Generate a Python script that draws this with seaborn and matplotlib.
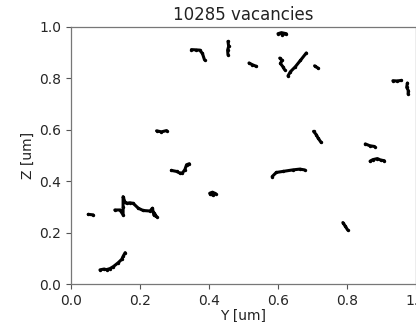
import matplotlib
matplotlib.use("Agg")
import matplotlib.pyplot as plt
import seaborn as sns
import pandas as pd

# Vacancy cluster traces: (Y [um], Z [um]) per cluster
clusters = {
    "arc_low": [(0.084, 0.055), (0.095, 0.058), (0.103, 0.056), (0.113, 0.060),
                (0.123, 0.068), (0.137, 0.083), (0.147, 0.096), (0.152, 0.110), (0.157, 0.122)],
    "dash_left": [(0.050, 0.271), (0.064, 0.269)],
    "big_cross": [(0.127, 0.288), (0.142, 0.288), (0.151, 0.269), (0.151, 0.300),
                  (0.151, 0.340), (0.156, 0.320), (0.161, 0.314), (0.170, 0.316),
                  (0.180, 0.314), (0.195, 0.295), (0.209, 0.286), (0.229, 0.284),
                  (0.236, 0.295), (0.240, 0.269), (0.248, 0.262), (0.240, 0.278)],
    "zig": [(0.291, 0.442), (0.306, 0.438), (0.315, 0.432), (0.323, 0.432),
            (0.330, 0.445), (0.335, 0.464), (0.343, 0.468)],
    "blob_mid": [(0.402, 0.353), (0.410, 0.357), (0.419, 0.352), (0.412, 0.346), (0.404, 0.349)],
    "dash_06": [(0.248, 0.596), (0.262, 0.592), (0.277, 0.597)],
    "hook_top": [(0.349, 0.912), (0.362, 0.911), (0.373, 0.910), (0.381, 0.897), (0.387, 0.872)],
    "vert_045": [(0.455, 0.944), (0.457, 0.925), (0.454, 0.910), (0.455, 0.892)],
    "dash_052": [(0.516, 0.860), (0.526, 0.853), (0.537, 0.847)],
    "blob_top": [(0.600, 0.974), (0.610, 0.978), (0.624, 0.974), (0.612, 0.970)],
    "squiggle": [(0.605, 0.879), (0.612, 0.870), (0.607, 0.858), (0.614, 0.846), (0.619, 0.834)],
    "diagonal": [(0.629, 0.810), (0.636, 0.826), (0.650, 0.845), (0.665, 0.870), (0.682, 0.899)],
    "dot_071": [(0.706, 0.849), (0.716, 0.840)],
    "dash_095": [(0.933, 0.791), (0.945, 0.790), (0.957, 0.792)],
    "vert_098": [(0.975, 0.782), (0.973, 0.765), (0.978, 0.752), (0.977, 0.740)],
    "slant_07": [(0.703, 0.594), (0.711, 0.581), (0.716, 0.568), (0.725, 0.551)],
    "long_044": [(0.583, 0.418), (0.595, 0.434), (0.614, 0.438), (0.643, 0.444),
                 (0.663, 0.447), (0.677, 0.444)],
    "dash_085": [(0.853, 0.545), (0.866, 0.538), (0.880, 0.535)],
    "blob_088": [(0.867, 0.478), (0.875, 0.484), (0.888, 0.488), (0.898, 0.482), (0.908, 0.480)],
    "small_079": [(0.788, 0.239), (0.795, 0.225), (0.802, 0.210)],
}

title_text = "10285 vacancies"
x_label = "Y [um]"
y_label = "Z [um]"
ticks = [0.0, 0.2, 0.4, 0.6, 0.8, 1.0]

rows = []
for name, pts in clusters.items():
    for i, (y, z) in enumerate(pts):
        rows.append({"cluster": name, "order": i, "Y": y, "Z": z})
df = pd.DataFrame(rows)

sns.set_style("ticks")
plt.rcParams["font.family"] = ["DejaVu Sans"]

fig = plt.figure(figsize=(4.16, 3.22), dpi=100)
ax = fig.add_axes([71 / 416, 38 / 322, 345 / 416, 257 / 322])

sns.lineplot(data=df, x="Y", y="Z", units="cluster", estimator=None, sort=False,
             color="black", linewidth=2.2, ax=ax)
sns.scatterplot(data=df, x="Y", y="Z", color="black", s=6, linewidth=0, ax=ax)

ax.set_xlim(0, 1)
ax.set_ylim(0, 1)
ax.set_xticks(ticks)
ax.set_yticks(ticks)
ax.tick_params(labelsize=10, direction="out", length=3.5, color="#555555")
for s in ax.spines.values():
    s.set_color("#777777")
    s.set_linewidth(0.9)
ax.set_title(title_text, fontsize=12, color="#222222", pad=5)
ax.set_xlabel(x_label, fontsize=10, color="#222222", labelpad=1)
ax.set_ylabel(y_label, fontsize=10, color="#222222", labelpad=3)

fig.savefig("out.png", dpi=100)
